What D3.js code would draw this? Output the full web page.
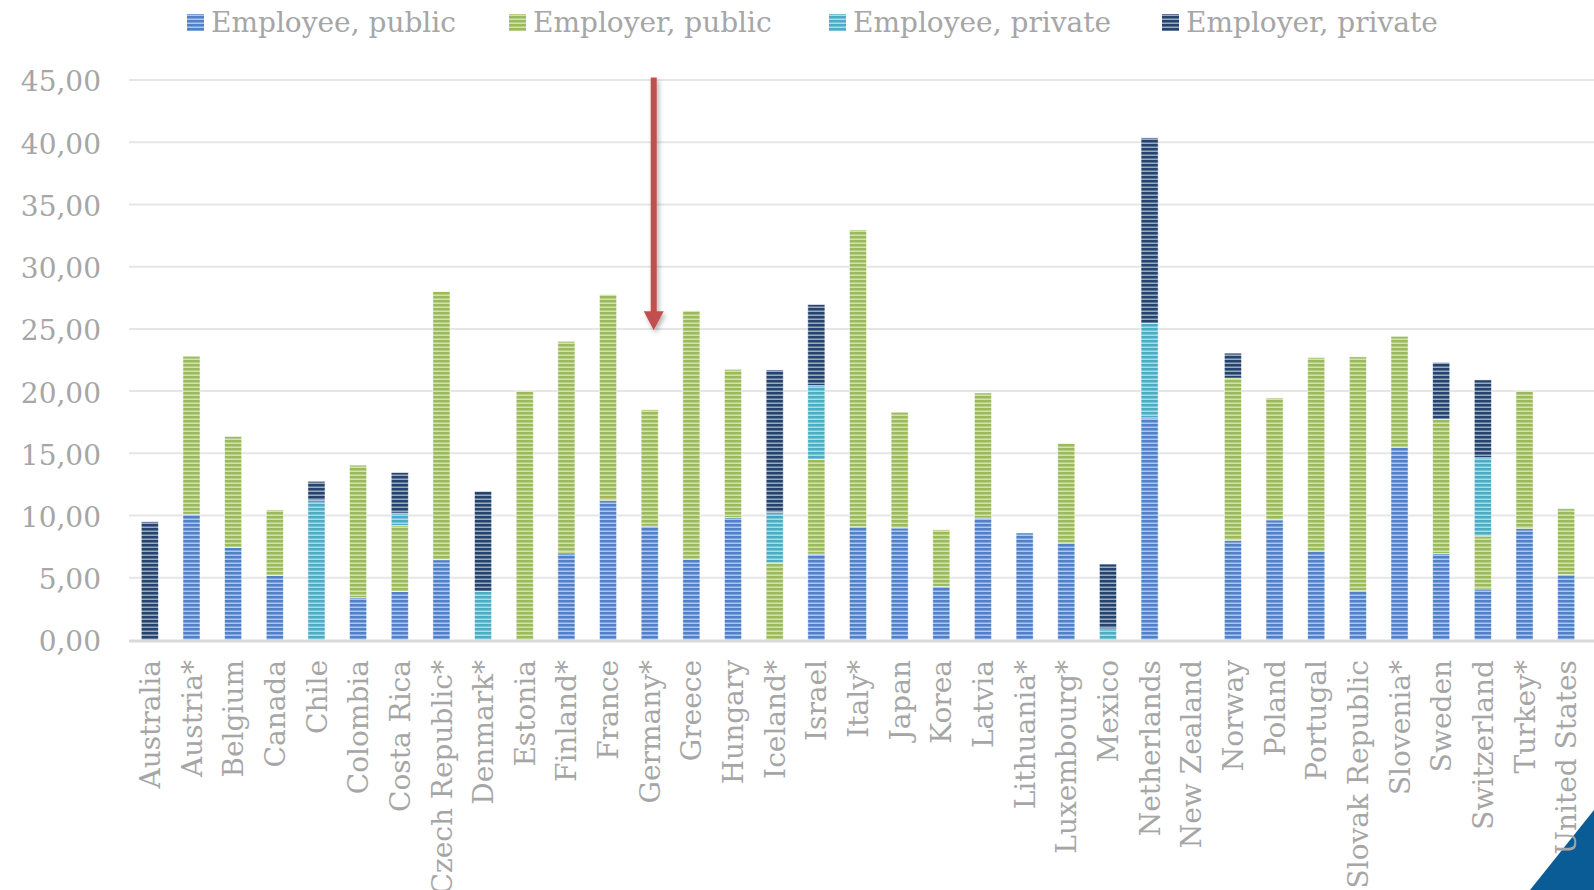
<!DOCTYPE html>
<html>
<head>
<meta charset="utf-8">
<script src="https://cdn.jsdelivr.net/npm/d3@7"></script>
<style>
  html, body { margin: 0; padding: 0; background: #fff; }
  svg { display: block; }
  text { font-family: "DejaVu Serif", Georgia, serif; fill: #a6a6a6; }
</style>
</head>
<body>
<svg id="chart" width="1594" height="890"></svg>
<script>
const categories = ["Australia","Austria*","Belgium","Canada","Chile","Colombia","Costa Rica","Czech Republic*","Denmark*","Estonia","Finland*","France","Germany*","Greece","Hungary","Iceland*","Israel","Italy*","Japan","Korea","Latvia","Lithuania*","Luxembourg*","Mexico","Netherlands","New Zealand","Norway","Poland","Portugal","Slovak Republic","Slovenia*","Sweden","Switzerland","Turkey*","United States"];

const employeePublic  = [0, 10.1, 7.45, 5.2, 0, 3.4, 3.9, 6.45, 0, 0, 7.0, 11.2, 9.15, 6.5, 9.85, 0, 6.9, 9.1, 9.0, 4.3, 9.8, 8.6, 7.8, 0, 17.85, 0, 8.0, 9.65, 7.15, 3.95, 15.5, 6.95, 4.1, 8.95, 5.25];
const employerPublic  = [0, 12.7, 8.9, 5.25, 0, 10.65, 5.3, 21.55, 0, 20.0, 17.0, 16.55, 9.35, 19.95, 11.9, 6.2, 7.6, 23.85, 9.3, 4.55, 10.05, 0, 8.0, 0, 0, 0, 13.05, 9.8, 15.55, 18.8, 8.9, 10.8, 4.25, 11.05, 5.3];
const employeePrivate = [0, 0, 0, 0, 11.2, 0, 1.0, 0, 3.9, 0, 0, 0, 0, 0, 0, 4.05, 5.95, 0, 0, 0, 0, 0, 0, 0.9, 7.6, 0, 0, 0, 0, 0, 0, 0, 6.3, 0, 0];
const employerPrivate = [9.5, 0, 0, 0, 1.55, 0, 3.25, 0, 8.05, 0, 0, 0, 0, 0, 0, 11.45, 6.5, 0, 0, 0, 0, 0, 0, 5.2, 14.9, 0, 2.0, 0, 0, 0, 0, 4.55, 6.25, 0, 0];

const seriesNames = ["Employee, public", "Employer, public", "Employee, private", "Employer, private"];
const seriesColors = ["#4f81c9", "#9bbb59", "#4bacc6", "#24436e"];
const yTicks = [0, 5, 10, 15, 20, 25, 30, 35, 40, 45];
const arrowCategory = "Germany*";
const arrowFrom = 45.2, arrowTo = 24.9;

const seriesValues = [employeePublic, employerPublic, employeePrivate, employerPrivate];
const keys = ["ep", "erp", "epr", "erpr"];
const table = categories.map((c, i) => {
  const o = { cat: c };
  keys.forEach((k, j) => o[k] = seriesValues[j][i]);
  return o;
});

const svg = d3.select("#chart");
const W = 1594, H = 890;

const x = d3.scaleBand().domain(categories).range([129, 1587]).paddingInner(0.59).paddingOuter(0.295);
const y = d3.scaleLinear().domain([0, 45]).range([640, 80]);

// patterns
const defs = svg.append("defs");
seriesColors.forEach((c, i) => {
  const p = defs.append("pattern").attr("id", "pat" + i)
    .attr("patternUnits", "userSpaceOnUse").attr("width", 8).attr("height", 4);
  p.append("rect").attr("width", 8).attr("height", 4).attr("fill", c);
  p.append("rect").attr("y", 2.5).attr("width", 8).attr("height", 1.5).attr("fill", "#fff").attr("opacity", 0.55);
});
const f = defs.append("filter").attr("id", "shadow").attr("x", "-50%").attr("y", "-10%").attr("width", "200%").attr("height", "130%");
f.append("feDropShadow").attr("dx", 2).attr("dy", 3).attr("stdDeviation", 2.5).attr("flood-color", "#000").attr("flood-opacity", 0.3);

// gridlines
svg.append("g").selectAll("line").data(yTicks.filter(t => t > 0)).join("line")
  .attr("x1", 129).attr("x2", W).attr("y1", d => y(d)).attr("y2", d => y(d))
  .attr("stroke", "#e6e6e6").attr("stroke-width", 2);

// y axis labels
const yAxis = d3.axisLeft(y).tickValues(yTicks).tickSize(0).tickPadding(0)
  .tickFormat(d => d3.format(".2f")(d).replace(".", ","));
const gy = svg.append("g").attr("transform", "translate(101,2)").call(yAxis);
gy.select(".domain").remove();
gy.selectAll("text").attr("font-size", 28).attr("fill", "#a6a6a6")
  .style("font-family", '"DejaVu Serif", Georgia, serif');

// stacked bars
const stack = d3.stack().keys(keys)(table);
svg.append("g").selectAll("g").data(stack).join("g")
  .attr("fill", (d, i) => `url(#pat${i})`)
  .selectAll("rect").data(d => d.filter(s => s[1] - s[0] > 0)).join("rect")
  .attr("x", d => x(d.data.cat))
  .attr("width", x.bandwidth())
  .attr("y", d => y(d[1]))
  .attr("height", d => y(d[0]) - y(d[1]))
  .attr("stroke", "#ffffff").attr("stroke-opacity", 0.6).attr("stroke-width", 0.8);

// x axis line
svg.append("line").attr("x1", 129).attr("x2", W).attr("y1", y(0) + 1).attr("y2", y(0) + 1)
  .attr("stroke", "#d9d9d9").attr("stroke-width", 3);

// corner decoration
svg.append("polygon").attr("points", `${W},810 ${W},${H} 1530,${H}`).attr("fill", "#0a5c96");

// x labels
const xAxis = d3.axisBottom(x).tickSize(0).tickPadding(0);
const gx = svg.append("g").attr("transform", `translate(0,${y(0) + 20})`).call(xAxis);
gx.select(".domain").remove();
gx.selectAll("text")
  .attr("transform", "rotate(-90)")
  .attr("text-anchor", "end")
  .attr("x", 0).attr("y", 0).attr("dy", "0.36em")
  .attr("font-size", 28).attr("fill", "#a6a6a6")
  .style("font-family", '"DejaVu Serif", Georgia, serif');

// arrow
const ax = x(arrowCategory) + x.bandwidth() / 2 + 4;
const ag = svg.append("g").attr("filter", "url(#shadow)");
ag.append("rect").attr("x", ax - 3).attr("y", y(arrowFrom)).attr("width", 6).attr("height", y(arrowTo) - 18 - y(arrowFrom) + 1)
  .attr("fill", "#c0504d");
ag.append("polygon")
  .attr("points", `${ax - 10},${y(arrowTo) - 19} ${ax + 10},${y(arrowTo) - 19} ${ax},${y(arrowTo)}`)
  .attr("fill", "#c0504d");

// legend
const legendX = [187, 509, 829, 1162];
const lg = svg.append("g").selectAll("g").data(seriesNames).join("g")
  .attr("transform", (d, i) => `translate(${legendX[i]},0)`);
lg.append("rect").attr("x", 0).attr("y", 14).attr("width", 17).attr("height", 17)
  .attr("fill", (d, i) => `url(#pat${i})`);
lg.append("text").attr("x", 24).attr("y", 32).attr("font-size", 28).text(d => d);
</script>
</body>
</html>
